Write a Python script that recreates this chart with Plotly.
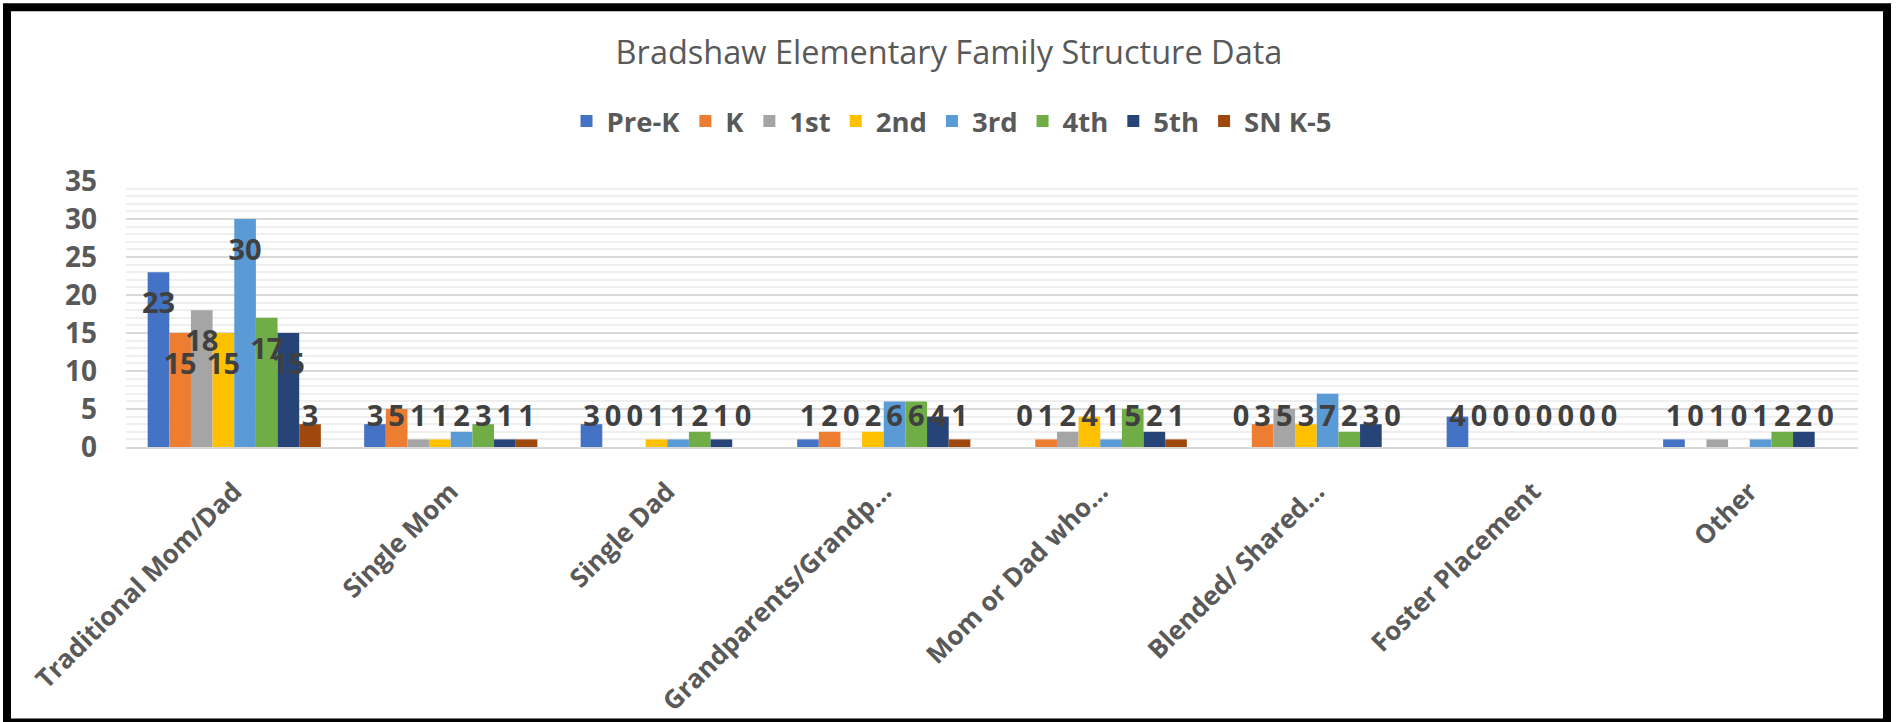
import plotly.graph_objects as go

categories = ["Traditional Mom/Dad", "Single Mom", "Single Dad", "Grandparents/Grandp…",
              "Mom or Dad who…", "Blended/ Shared…", "Foster Placement", "Other"]
series_names = ["Pre-K", "K", "1st", "2nd", "3rd", "4th", "5th", "SN K-5"]

pre_k = [23, 3, 3, 1, 0, 0, 4, 1]
kinder = [15, 5, 0, 2, 1, 3, 0, 0]
first = [18, 1, 0, 0, 2, 5, 0, 1]
second = [15, 1, 1, 2, 4, 3, 0, 0]
third = [30, 2, 1, 6, 1, 7, 0, 1]
fourth = [17, 3, 2, 6, 5, 2, 0, 2]
fifth = [15, 1, 1, 4, 2, 3, 0, 2]
sn_k5 = [3, 1, 0, 1, 1, 0, 0, 0]

series_values = [pre_k, kinder, first, second, third, fourth, fifth, sn_k5]
colors = ["#4472C4", "#ED7D31", "#A5A5A5", "#FFC000", "#5B9BD5", "#70AD47", "#264478", "#9E480E"]

FONT = "Open Sans"
W, H = 1898, 722
L, R, T, B = 126, 40, 181, 274.7  # plot-area margins in px

fig = go.Figure()
for name, vals, col in zip(series_names, series_values, colors):
    fig.add_trace(go.Bar(x=categories, y=vals, name=name, marker_color=col,
                         marker_line_width=0, hoverinfo="x+y+name"))

# data labels (Excel "inside end" style, lifted above short bars)
for name, vals in zip(series_names, series_values):
    label_y = [max(v - 4.45, 3.7) for v in vals]
    fig.add_trace(go.Scatter(x=categories, y=label_y, mode="text", text=[str(v) for v in vals],
                             textposition="middle center", showlegend=False, hoverinfo="skip",
                             textfont=dict(family=FONT, size=29, color="#404040", weight=700)))

pw = W - L - R
ph = H - T - B
def px_x(p):
    return (p - L) / pw
def px_y(p):
    return (H - B - p) / ph

fig.update_layout(
    width=W, height=H,
    margin=dict(l=L, r=R, t=T, b=B, pad=0, autoexpand=False),
    paper_bgcolor="white", plot_bgcolor="white",
    barmode="group", bargap=0.2, bargroupgap=0,
    scattermode="group", scattergap=0.2,
    title=dict(text="Bradshaw Elementary Family Structure Data", x=0.5, xref="container",
               y=1 - 53 / H, yref="container", xanchor="center", yanchor="middle",
               font=dict(family=FONT, size=32.5, color="#595959")),
    legend=dict(orientation="h", x=px_x(952), xanchor="center", y=px_y(121), yanchor="middle",
                font=dict(family=FONT, size=27.5, color="#595959", weight=700),
                itemwidth=30, traceorder="normal", bgcolor="rgba(0,0,0,0)"),
    xaxis=dict(type="category", tickangle=-45, showgrid=False, showline=True, automargin=False,
               linecolor="#d9d9d9", linewidth=2, ticks="", ticklabelstandoff=17,
               tickfont=dict(family=FONT, size=26, color="#595959", weight=700)),
    yaxis=dict(range=[0, 35], dtick=5, tick0=0, showgrid=True, gridcolor="#d9d9d9", gridwidth=1.5,
               zeroline=False, ticks="", ticklabelstandoff=28, automargin=False,
               tickfont=dict(family=FONT, size=28, color="#595959", weight=700),
               minor=dict(dtick=1, tick0=0, showgrid=True, gridcolor="#efefef", gridwidth=1.5)),
    shapes=[dict(type="rect", xref="paper", yref="paper",
                 x0=px_x(7), x1=px_x(1887), y0=px_y(723), y1=px_y(7),
                 line=dict(color="black", width=8), fillcolor="rgba(0,0,0,0)", layer="above")],
)

fig.write_html("out.html", config={"displayModeBar": False},
               post_script="document.body.style.margin='0';document.body.style.overflow='hidden';")
